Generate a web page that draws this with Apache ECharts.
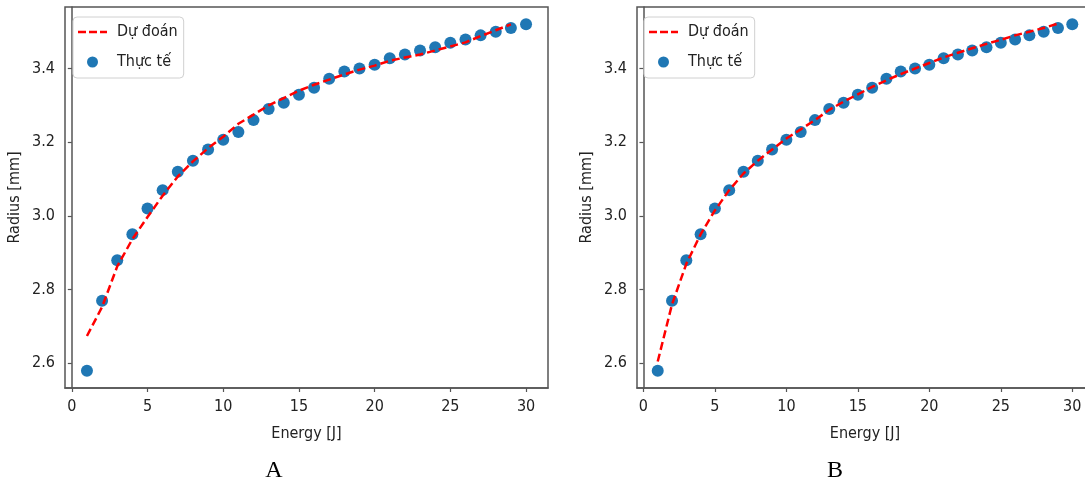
<!DOCTYPE html>
<html>
<head>
<meta charset="utf-8">
<script src="https://cdn.jsdelivr.net/npm/echarts@6/dist/echarts.min.js"></script>
<style>
html,body{margin:0;padding:0;background:#fff;}
#chart{width:1085px;height:481px;}
</style>
</head>
<body>
<div id="chart"></div>
<script>
const energy = [1,2,3,4,5,6,7,8,9,10,11,12,13,14,15,16,17,18,19,20,21,22,23,24,25,26,27,28,29,30];
const measured = [2.58,2.77,2.88,2.95,3.02,3.07,3.12,3.15,3.18,3.207,3.228,3.26,3.29,3.307,3.329,3.348,3.372,3.392,3.40,3.41,3.428,3.438,3.449,3.458,3.47,3.479,3.49,3.50,3.51,3.52];
const predictedA = [2.674,2.753,2.863,2.937,2.997,3.055,3.107,3.148,3.184,3.215,3.25,3.275,3.30,3.32,3.34,3.356,3.37,3.384,3.397,3.408,3.421,3.43,3.438,3.449,3.46,3.471,3.488,3.504,3.52];
const predictedB = [2.605,2.76,2.87,2.95,3.015,3.07,3.115,3.15,3.18,3.21,3.235,3.26,3.288,3.31,3.33,3.35,3.368,3.385,3.40,3.415,3.43,3.443,3.455,3.467,3.478,3.49,3.50,3.51,3.522];
const xTicks = [0,5,10,15,20,25,30];
const yTicks = [2.6,2.8,3.0,3.2,3.4];
const panelLabels = ['A','B'];
const xName = 'Energy [J]';
const yName = 'Radius [mm]';
const lineName = 'Dự đoán';
const dotName = 'Thực tế';

const FONT = "'DejaVu Sans Condensed','Liberation Sans Narrow','DejaVu Sans',sans-serif";
const AXC = '#555';
const TXT = '#222';
const DASH_ICON = 'path://M0,0H8V2.5H0Z M11,0H19V2.5H11Z M22,0H29V2.5H22Z';

function pairs(xs, ys){ return ys.map((y,i)=>[xs[i], y]); }

function xAxis(gi){
  return {
    type:'value', gridIndex:gi, min:-0.45, max:31.45,
    name:xName, nameLocation:'middle', nameGap:38,
    nameTextStyle:{fontFamily:FONT, fontSize:16, color:TXT},
    axisLine:{show:true, lineStyle:{color:AXC, width:1.5}},
    axisTick:{show:true, length:4, lineStyle:{color:AXC, width:1.2}, customValues:xTicks},
    axisLabel:{fontFamily:FONT, fontSize:16, color:TXT, margin:11, customValues:xTicks},
    splitLine:{show:false}
  };
}
function yAxis(gi){
  return {
    type:'value', gridIndex:gi, min:2.533, max:3.567,
    name:yName, nameLocation:'middle', nameGap:42,
    nameTextStyle:{fontFamily:FONT, fontSize:16, color:TXT},
    axisLine:{show:true, lineStyle:{color:AXC, width:1.5}},
    axisTick:{show:true, length:4, lineStyle:{color:AXC, width:1.2}, customValues:yTicks},
    axisLabel:{fontFamily:FONT, fontSize:16, color:TXT, margin:10, customValues:yTicks, formatter:v=>v.toFixed(1)},
    splitLine:{show:false}
  };
}
function legend(left){
  return {
    orient:'vertical', left:left, top:17,
    data:[
      {name:lineName, icon:DASH_ICON, itemStyle:{color:'#ff0000', borderWidth:0}},
      {name:dotName, icon:'circle', itemStyle:{color:'#1f77b4', opacity:1}}
    ],
    itemWidth:29, itemHeight:11, itemGap:14,
    padding:[7,6,8,5],
    borderColor:'#d0d0d0', borderWidth:1, borderRadius:4,
    backgroundColor:'rgba(255,255,255,0.8)',
    textStyle:{fontFamily:FONT, fontSize:16, color:TXT, padding:[0,0,0,5]},
    selectedMode:false
  };
}
function scatter(gi){
  return {name:dotName, type:'scatter', xAxisIndex:gi, yAxisIndex:gi,
    data:pairs(energy, measured), symbolSize:12,
    itemStyle:{color:'#1f77b4', opacity:1}, z:2};
}
function line(gi, vals){
  return {name:lineName, type:'line', xAxisIndex:gi, yAxisIndex:gi,
    data:pairs(energy, vals), symbol:'none', showSymbol:false,
    lineStyle:{color:'#ff0000', width:2.5, type:[8,4]},
    itemStyle:{color:'#ff0000'}, z:3};
}

const chart = echarts.init(document.getElementById('chart'), null, {renderer:'canvas'});
chart.setOption({
  animation:false,
  backgroundColor:'#fff',
  grid:[
    {left:65, top:7, width:483, height:381, show:true, borderColor:AXC, borderWidth:1.5, backgroundColor:'transparent', outerBoundsMode:'none', containLabel:false},
    {left:637, top:7, width:456, height:381, show:true, borderColor:AXC, borderWidth:1.5, backgroundColor:'transparent', outerBoundsMode:'none', containLabel:false}
  ],
  xAxis:[xAxis(0), xAxis(1)],
  yAxis:[yAxis(0), yAxis(1)],
  legend:[legend(73), legend(644)],
  series:[scatter(0), line(0, predictedA), scatter(1), line(1, predictedB)],
  graphic:[
    {type:'text', x:274, y:459, style:{text:panelLabels[0], font:"24px 'Liberation Serif','Times New Roman',serif", fill:'#000', textAlign:'center'}},
    {type:'text', x:835, y:459, style:{text:panelLabels[1], font:"24px 'Liberation Serif','Times New Roman',serif", fill:'#000', textAlign:'center'}}
  ]
});
</script>
</body>
</html>
